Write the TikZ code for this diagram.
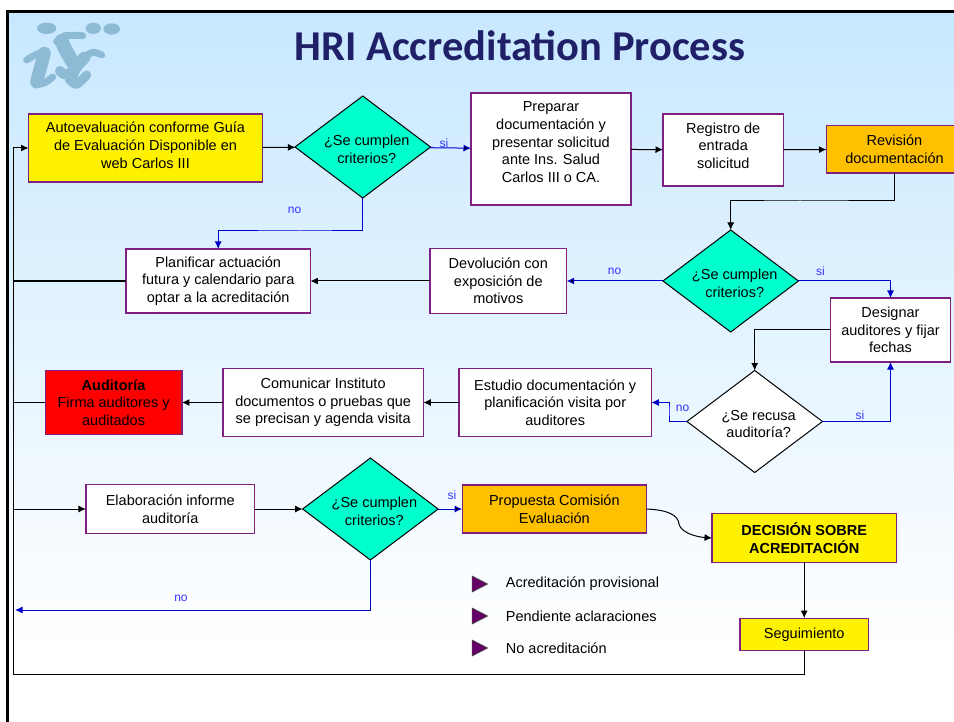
\documentclass[tikz,border=0pt]{standalone}
\usepackage{fontspec}
\setmainfont{Liberation Sans}
\newfontfamily\titlefont{Carlito}
\usetikzlibrary{arrows.meta}
\usetikzlibrary{positioning,shapes}
\definecolor{boxpurple}{HTML}{7F1F82}
\definecolor{slideblue}{HTML}{C8E8FF}
\definecolor{decideteal}{HTML}{00FFCC}
\definecolor{revorange}{HTML}{FFC000}
\definecolor{linkblue}{HTML}{0000CC}
\definecolor{labelblue}{HTML}{3333FF}
\definecolor{titlenavy}{HTML}{1F2068}
\definecolor{logoblue}{HTML}{8DBBD6}
\definecolor{legendpurple}{HTML}{660066}
\newcommand{\critlines}[2]{\rule{0pt}{15pt}\hspace*{8pt}#1\\\hspace*{8pt}#2}
\tikzset{
  stepbox/.style={rectangle, draw=boxpurple, line width=1.2pt, fill=white, align=center, inner sep=0pt, outer sep=0pt, font=\fontsize{14.5}{17.7}\selectfont},
  decide/.style={diamond, shape aspect=1.33, draw=black, line width=1pt, fill=decideteal, align=center, inner sep=-3pt, outer sep=0pt, minimum width=135.5pt, minimum height=102pt, font=\fontsize{14.5}{17.5}\selectfont},
  flow/.style={draw=black, line width=1pt},
  blueflow/.style={draw=linkblue, line width=1pt},
  answer/.style={text=labelblue, inner sep=0pt, font=\fontsize{12}{14}\selectfont},
  legendmark/.style={isosceles triangle, isosceles triangle stretches, draw=black!70, line width=0.7pt, fill=legendpurple, minimum width=16pt, minimum height=15.5pt, inner sep=0pt},
  legendtext/.style={anchor=west, inner sep=0pt, font=\fontsize{14.5}{17.5}\selectfont},
  logostroke/.style={draw=logoblue, line cap=round, line join=round}
}
\begin{document}
\begin{tikzpicture}[x=1pt, y=-1pt, >={Latex[length=7.5pt,width=7pt]}]
  \clip (0,0) rectangle (954,722);
  % slide background
  \fill[white] (0,0) rectangle (954,722);
  \shade[top color=slideblue, bottom color=white] (9,13) rectangle (954,650);
  \draw[line width=2.6pt] (7.5,722) |- (954,11.5);
  % logo
  \begin{scope}[shift={(15,15)}, x=0.3333pt, y=-0.3333pt]
    \fill[logoblue] (95,40) ellipse (29 and 17);
    \fill[logoblue] (235,40) ellipse (23 and 17);
    \fill[logoblue] (290,42) ellipse (25 and 17);
    \draw[logostroke, line width=7pt] plot[smooth] coordinates {(35,135) (65,118) (95,110)};
    \draw[logostroke, line width=13pt] (88,115) -- (65,200);
    \draw[logostroke, line width=7pt] plot[smooth] coordinates {(62,210) (90,203) (113,186)};
    \draw[logostroke, line width=7pt] plot[smooth] coordinates {(125,80) (150,62) (203,62)};
    \draw[logostroke, line width=14pt] plot[smooth] coordinates {(140,78) (152,105) (172,140)};
    \draw[logostroke, line width=10pt] plot[smooth] coordinates {(175,145) (170,170) (150,178) (135,168)};
    \draw[logostroke, line width=7pt] plot[smooth] coordinates {(260,120) (235,112) (208,125)};
    \draw[logostroke, line width=12pt] plot[smooth] coordinates {(208,128) (180,160) (168,192)};
    \draw[logostroke, line width=9pt] plot[smooth] coordinates {(165,195) (185,208) (215,180)};
  \end{scope}
  \node (title) [text=titlenavy, inner sep=0pt, font=\titlefont\bfseries\fontsize{42.5}{48}\selectfont] at (520,46) {HRI Accreditation Process};

  % first row
  \node (autoeval) [stepbox, fill=yellow, minimum width=234pt, minimum height=68pt] at (145.5,148) {Autoevaluación conforme Guía\\de Evaluación Disponible en\\web Carlos III\\[-12pt]~};
  \node (crit1) [decide, right=32.5pt of autoeval, yshift=1pt] {\critlines{¿Se cumplen}{criterios?}};
  \node (prep) [stepbox, right=40.5pt of crit1, yshift=-2pt, minimum width=160pt, minimum height=112pt] {Preparar\\documentación y\\presentar solicitud\\ante Ins. Salud\\Carlos III o CA.\\[-4pt]~};
  \node (regis) [stepbox, right=32pt of prep, yshift=-1pt, minimum width=120.5pt, minimum height=72pt] {Registro de\\entrada\\solicitud\\[-9pt]~};
  \node (revis) [stepbox, right=43pt of regis, minimum width=136pt, yshift=0.7pt, fill=revorange, minimum height=47.5pt] {Revisión\\documentación};

  % second row
  \node (crit2) [decide] at (730.7,281) {\critlines{¿Se cumplen}{criterios?}};
  \node (devol) [stepbox, left=96.3pt of crit2, minimum width=136.7pt, minimum height=64.5pt] {Devolución con\\exposición de\\motivos};
  \node (planif) [stepbox, left=119.5pt of devol, minimum width=184.5pt, minimum height=64pt] {Planificar actuación\\futura y calendario para\\optar a la acreditación};
  \node (design) [stepbox, minimum width=120.5pt, minimum height=64pt] at (890.5,330) {Designar\\auditores y fijar\\fechas};

  % third row
  \node (recusa) [decide, fill=white] at (754.7,421.5) {\critlines{¿Se recusa}{auditoría?}};
  \node (estudio) [stepbox, minimum width=192.3pt, minimum height=67.6pt] at (555.2,402.5) {Estudio documentación y\\planificación visita por\\auditores};
  \node (comun) [stepbox, left=35.7pt of estudio, minimum width=200.4pt, minimum height=67.6pt] {Comunicar Instituto\\documentos o pruebas que\\se precisan y agenda visita};
  \node (audit) [stepbox, left=41pt of comun, fill=red, minimum width=136.7pt, minimum height=64pt] {\textbf{Auditoría}\\Firma auditores y\\auditados};

  % fourth row
  \node (elab) [stepbox, minimum width=168.7pt, minimum height=48.3pt] at (170.3,509) {Elaboración informe\\auditoría};
  \node (crit3) [decide, right=48pt of elab] {\critlines{¿Se cumplen}{criterios?}};
  \node (prop) [stepbox, right=24pt of crit3, fill=revorange, minimum width=184.4pt, minimum height=48pt] {Propuesta Comisión\\Evaluación};
  \node (decis) [stepbox, fill=yellow, minimum width=184.3pt, minimum height=48.3pt] at (804.2,538) {\textbf{DECISIÓN SOBRE}\\\textbf{ACREDITACIÓN}};
  \node (segui) [stepbox, below=56pt of decis, fill=yellow, minimum width=128.3pt, minimum height=32.3pt] {Seguimiento};

  % legend
  \node (mark1) [legendmark] at (477,584) {};
  \node (mark2) [legendmark] at (477,616) {};
  \node (mark3) [legendmark] at (477,648) {};
  \node (leg1) [legendtext] at (505.7,584) {Acreditación provisional};
  \node (leg2) [legendtext] at (505.7,616) {Pendiente aclaraciones};
  \node (leg3) [legendtext] at (505.7,648) {No acreditación};

  % joints
  \coordinate (railbot) at (13.5,674);
  \coordinate (railend) at (15,610);
  \coordinate (noturn) at (300,231);
  \coordinate (revturn) at (800,201);
  \coordinate (recturn) at (669,410);
  \coordinate (curvemid) at (679,524);

  % black connectors
  \path [flow] (autoeval) edge[->] (crit1)
    (prep) edge[->] (regis)
    (regis) edge[->] (revis)
    (devol) edge[->] (planif)
    (estudio) edge[->] (comun)
    (comun) edge[->] (audit)
    (elab) edge[->] (crit3)
    (decis) edge[->] (segui)
    (railbot |- elab.west) edge[->] (elab);
  \draw [flow, ->] (revis.south) |- (revturn) -| (crit2.north);
  \draw [flow, ->] (design.west) -| (recusa.north);
  \draw [flow, ->] (segui.south) |- (railbot) |- (autoeval.west);
  \draw [flow, line width=1.5pt] (planif.west) -- (planif.west -| railbot);
  \draw [flow, line width=1.5pt] (audit.west) -- (audit.west -| railbot);
  \draw [flow, ->] (prop.east) .. controls (668,510) and (678,515) .. (curvemid) .. controls (681,533) and (697,537) .. (decis.west);

  % blue connectors
  \path [blueflow] (crit1) edge[->] (prep)
    (crit2) edge[->] (devol)
    (crit3) edge[->] (prop);
  \draw [blueflow, ->] (crit1.south) |- (noturn) -| (planif.north);
  \draw [blueflow, ->] (crit2.east) -| (design.north);
  \draw [blueflow, ->] (recusa.east) -| (design.south);
  \draw [blueflow, ->] (recusa.west) -| (recturn) |- (estudio.east);
  \draw [blueflow, ->] (crit3.south) |- (railend);

  % answers
  \node (si1) [answer] at (444,143) {si};
  \node (no1) [answer] at (294.5,210) {no};
  \node (no2) [answer] at (614.5,271) {no};
  \node (si2) [answer] at (820.5,271) {si};
  \node (no3) [answer] at (682.5,408) {no};
  \node (si3) [answer] at (860,415) {si};
  \node (si4) [answer] at (452,495) {si};
  \node (no4) [answer] at (181,598) {no};
\end{tikzpicture}
\end{document}
